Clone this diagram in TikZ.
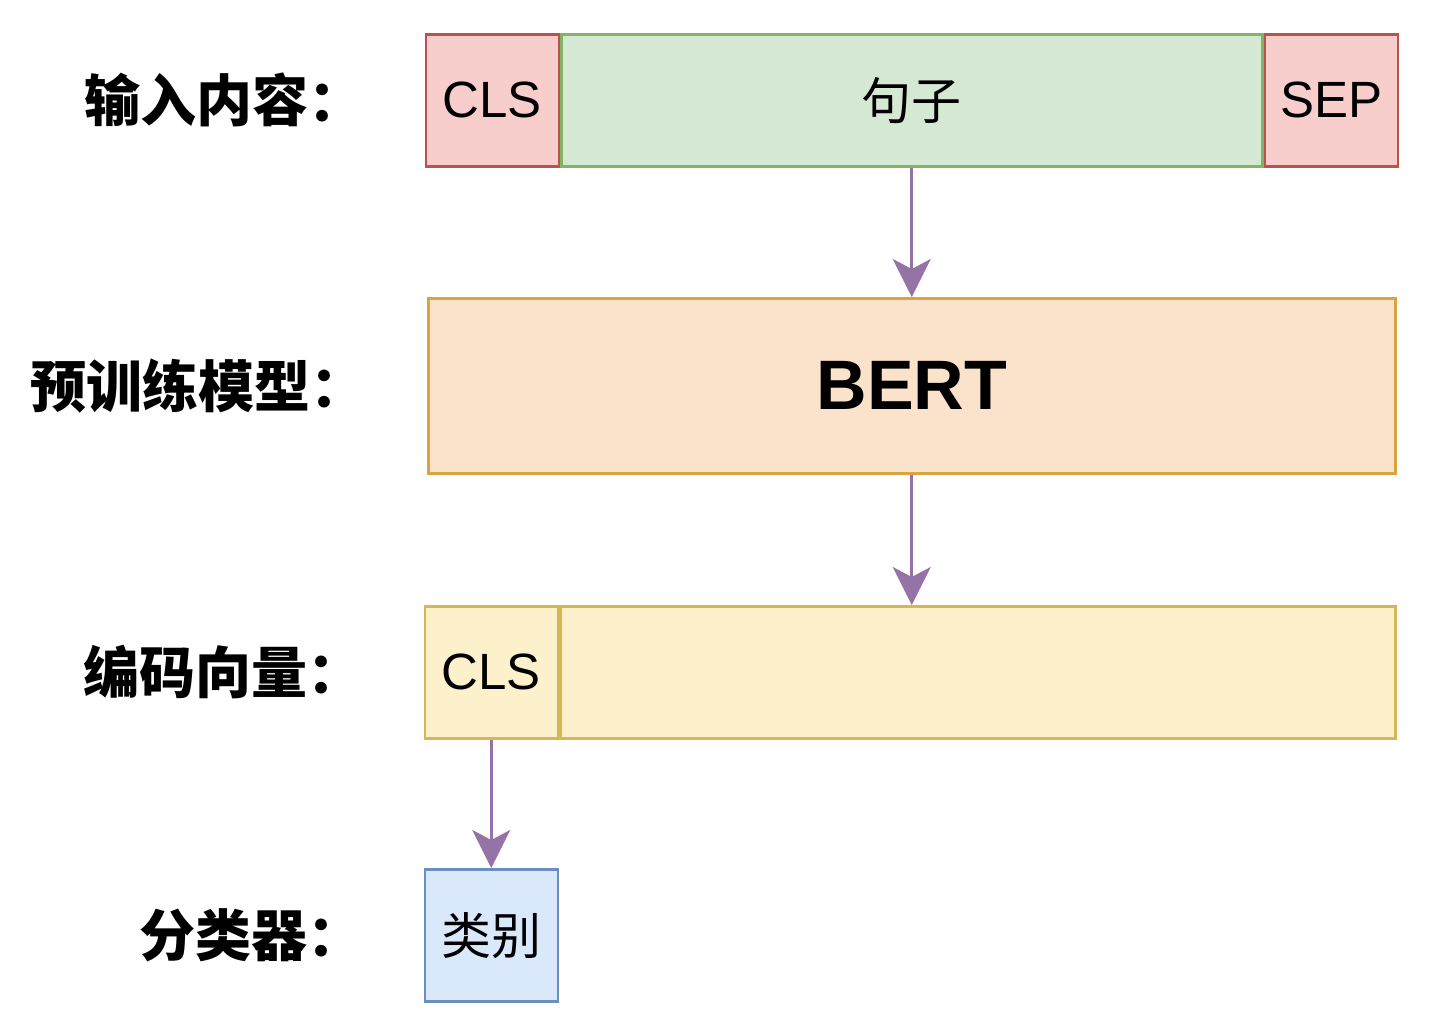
\documentclass[tikz,border=0pt]{standalone}
\usepackage{fontspec}
\setmainfont{Liberation Sans}
\newfontfamily\cjk{Noto Sans CJK SC}
\usetikzlibrary{positioning,arrows.meta}

\definecolor{clsfill}{HTML}{F8CECC}
\definecolor{clsline}{HTML}{B85450}
\definecolor{sentfill}{HTML}{D5E8D4}
\definecolor{sentline}{HTML}{82B366}
\definecolor{bertfill}{HTML}{FBE3CB}
\definecolor{bertline}{HTML}{D9A441}
\definecolor{encfill}{HTML}{FDF1CC}
\definecolor{encline}{HTML}{D6B656}
\definecolor{outfill}{HTML}{DAE8FC}
\definecolor{outline}{HTML}{6C8EBF}
\definecolor{flowline}{HTML}{9673A6}

\tikzset{
  tok/.style={draw, line width=2.5pt, minimum width=133pt, minimum height=132pt,
    inner sep=0pt, font=\fontsize{51}{51}\selectfont},
  clsbox/.style={tok, fill=clsfill, draw=clsline},
  sentbox/.style={tok, fill=sentfill, draw=sentline},
  encbox/.style={tok, fill=encfill, draw=encline},
  outbox/.style={tok, fill=outfill, draw=outline},
  lab/.style={inner sep=0pt, font=\cjk\bfseries\fontsize{56}{56}\selectfont},
  flow/.style={draw=flowline, line width=2.8pt,
    -{Stealth[length=38pt, width=38pt, inset=10pt]}}
}

\begin{document}
\begin{tikzpicture}[x=1pt, y=-1pt]
  \useasboundingbox (0,0) rectangle (1438,1020);

  % input row
  \node (sent) [sentbox, anchor=north west, minimum width=701pt] at (560,33) {\cjk\fontsize{50}{50}\selectfont 句子};
  \node (cls) [clsbox, left=0pt of sent] {CLS};
  \node (sep) [clsbox, right=0pt of sent] {SEP};

  % model
  \node (bert) [tok, fill=bertfill, draw=bertline, anchor=north west,
    minimum width=967pt, minimum height=175pt,
    font=\bfseries\fontsize{70}{70}\selectfont] at (427,297) {BERT};

  % encoding
  \node (enc) [encbox, anchor=north west, minimum width=835pt] at (559,605) {};
  \node (enccls) [encbox, left=0pt of enc] {CLS};

  % classifier
  \node (label) [outbox, anchor=north] at (enccls.south |- 0,868) {\cjk\fontsize{50}{50}\selectfont 类别};

  % row titles
  \node (t1) [lab, left=60pt of cls] {输入内容：};
  \node (t2) [lab, left=60pt of bert] {预训练模型：};
  \node (t3) [lab, left=60pt of enccls] {编码向量：};
  \node (t4) [lab, left=60pt of label] {分类器：};

  \draw[flow] (sent.south) -- (bert.north -| sent.south);
  \draw[flow] (bert.south -| sent.south) -- (enc.north -| sent.south);
  \draw[flow] (enccls.south) -- (label.north);
\end{tikzpicture}
\end{document}
